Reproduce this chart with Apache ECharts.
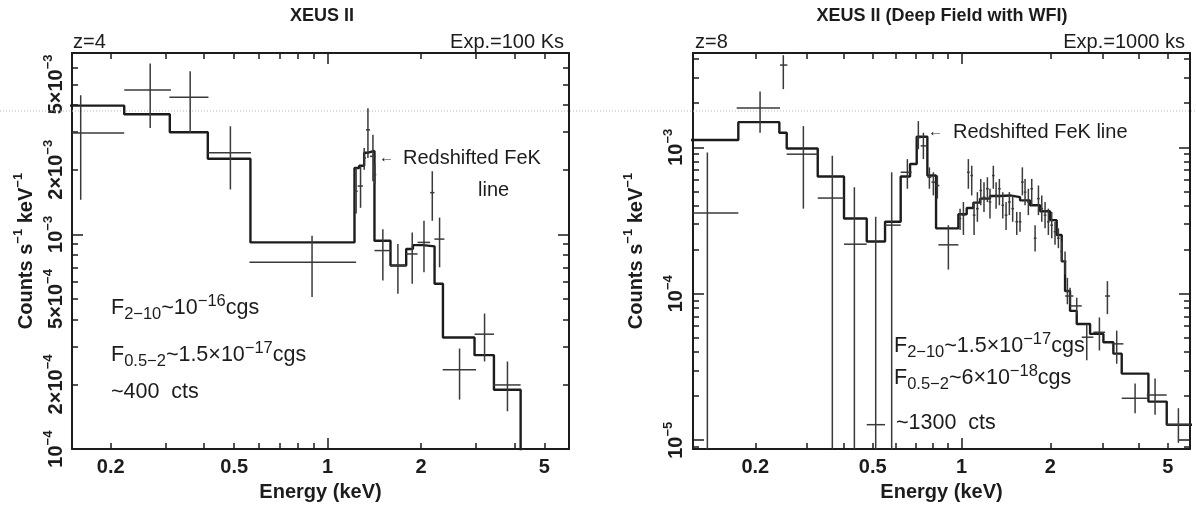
<!DOCTYPE html>
<html><head><meta charset="utf-8">
<script src="https://cdn.jsdelivr.net/npm/echarts@6/dist/echarts.min.js"></script>
<style>html,body{margin:0;padding:0;background:#fff}#c{width:1196px;height:507px}</style>
</head><body><div id="c"></div>
<script>
// ---------------- data ----------------
// model histograms: [binLow keV, binHigh keV, counts/s/keV]
const leftModel = [
  [0.13, 0.221, 3.98e-3], [0.221, 0.310, 3.63e-3], [0.310, 0.411, 2.99e-3],
  [0.411, 0.564, 2.25e-3], [0.564, 1.221, 9.18e-4], [1.221, 1.264, 2.04e-3],
  [1.264, 1.312, 2.09e-3], [1.312, 1.342, 2.40e-3], [1.342, 1.416, 2.45e-3],
  [1.416, 1.595, 9.35e-4], [1.595, 1.792, 7.16e-4], [1.792, 1.884, 8.55e-4],
  [1.884, 2.030, 8.92e-4], [2.030, 2.212, 8.80e-4], [2.212, 2.354, 5.89e-4],
  [2.354, 2.976, 3.31e-4], [2.976, 3.437, 2.74e-4], [3.437, 4.19, 1.89e-4],
  [4.19, 7.0, 1e-6]
];
// data points: [xLow, x, xHigh, yLow, y, yHigh]
const leftData = [
  [0.116, 0.160, 0.221, 1.45e-3, 2.97e-3, 4.45e-3],
  [0.221, 0.268, 0.3125, 3.13e-3, 4.71e-3, 6.26e-3],
  [0.309, 0.3606, 0.413, 2.97e-3, 4.35e-3, 5.76e-3],
  [0.411, 0.486, 0.566, 1.62e-3, 2.40e-3, 3.19e-3],
  [0.560, 0.891, 1.236, 5.11e-4, 7.42e-4, 9.86e-4],
  [1.221, 1.236, 1.25, 1.25e-3, 1.59e-3, 2.04e-3],
  [1.25, 1.277, 1.30, 1.33e-3, 1.68e-3, 2.08e-3],
  [1.30, 1.312, 1.33, 2.00e-3, 2.27e-3, 2.53e-3],
  [1.33, 1.349, 1.37, 2.27e-3, 3.07e-3, 3.87e-3],
  [1.37, 1.400, 1.43, 1.77e-3, 2.31e-3, 2.91e-3],
  [1.405, 1.42, 1.435, 1.71e-3, 1.90e-3, 2.12e-3],
  [1.416, 1.507, 1.603, 6.10e-4, 8.41e-4, 1.058e-3],
  [1.595, 1.685, 1.792, 5.29e-4, 7.16e-4, 9.02e-4],
  [1.792, 1.874, 1.95, 5.89e-4, 8.11e-4, 1.02e-3],
  [1.95, 2.045, 2.14, 6.67e-4, 9.18e-4, 1.158e-3],
  [2.14, 2.175, 2.21, 1.158e-3, 1.565e-3, 1.97e-3],
  [2.21, 2.296, 2.38, 7.03e-4, 9.51e-4, 1.198e-3],
  [2.35, 2.663, 3.01, 1.70e-4, 2.34e-4, 2.94e-4],
  [2.976, 3.206, 3.44, 2.56e-4, 3.43e-4, 4.28e-4],
  [3.42, 3.80, 4.19, 1.50e-4, 1.99e-4, 2.56e-4]
];
const rightModel = [
  [0.11, 0.1752, 1.122e-3], [0.1752, 0.2413, 1.484e-3], [0.2413, 0.2556, 1.257e-3],
  [0.2556, 0.3256, 9.80e-4], [0.3256, 0.3997, 6.31e-4], [0.3997, 0.4773, 3.265e-4],
  [0.4773, 0.5506, 2.271e-4], [0.5506, 0.6221, 3.10e-4], [0.6221, 0.6693, 6.31e-4],
  [0.6693, 0.7050, 7.68e-4], [0.7050, 0.7661, 1.181e-3], [0.7661, 0.8199, 6.41e-4],
  [0.8199, 0.9759, 2.795e-4], [0.9759, 1.0416, 3.49e-4], [1.0416, 1.097, 3.85e-4],
  [1.097, 1.156, 4.19e-4], [1.156, 1.249, 4.46e-4], [1.249, 1.351, 4.65e-4],
  [1.351, 1.460, 4.69e-4], [1.460, 1.579, 4.57e-4], [1.579, 1.707, 4.34e-4],
  [1.707, 1.846, 4.02e-4], [1.846, 1.995, 3.66e-4], [1.995, 2.102, 3.18e-4],
  [2.102, 2.186, 2.52e-4], [2.186, 2.244, 1.664e-4], [2.244, 2.333, 1.043e-4],
  [2.333, 2.458, 7.64e-5], [2.458, 2.728, 6.21e-5], [2.728, 3.027, 5.32e-5],
  [3.027, 3.272, 4.67e-5], [3.272, 3.492, 3.90e-5], [3.492, 4.301, 2.85e-5],
  [4.301, 4.962, 1.836e-5], [4.962, 6.5, 1.277e-5]
];
const rightData = [
  [0.105, 0.1376, 0.1752, 1e-7, 3.565e-4, 9.21e-4],
  [0.1730, 0.2076, 0.2426, 1.257e-3, 1.855e-3, 2.404e-3],
  [0.2426, 0.2489, 0.2569, 2.492e-3, 3.64e-3, 4.25e-3],
  [0.2556, 0.2911, 0.3256, 3.81e-4, 8.97e-4, 1.395e-3],
  [0.3256, 0.3649, 0.3997, 1e-7, 4.50e-4, 8.74e-4],
  [0.3997, 0.4334, 0.4773, 1e-7, 2.179e-4, 5.34e-4],
  [0.4773, 0.5119, 0.5506, 1e-7, 1.277e-5, 3.35e-4],
  [0.5506, 0.5799, 0.6221, 1e-7, 2.94e-4, 6.75e-4],
  [0.6221, 0.6554, 0.6780, 5.21e-4, 6.75e-4, 8.30e-4],
  [0.7050, 0.7140, 0.7271, 9.70e-4, 1.163e-3, 1.508e-3],
  [0.7271, 0.7427, 0.7583, 8.30e-4, 1.022e-3, 1.257e-3],
  [0.7661, 0.7783, 0.7906, 5.21e-4, 6.24e-4, 7.29e-4],
  [0.7906, 0.8028, 0.8153, 4.69e-4, 5.78e-4, 6.75e-4],
  [0.8153, 0.8283, 0.8414, 4.46e-4, 5.48e-4, 6.41e-4],
  [0.8348, 0.9026, 0.9759, 1.462e-4, 2.157e-4, 2.94e-4],
  [0.979, 0.989, 0.999, 2.72e-4, 3.265e-4, 3.81e-4],
  [1.004, 1.015, 1.026, 2.52e-4, 3.44e-4, 4.23e-4],
  [1.044, 1.055, 1.066, 5.21e-4, 6.75e-4, 8.30e-4],
  [1.072, 1.083, 1.094, 4.69e-4, 6.41e-4, 7.48e-4],
  [1.092, 1.103, 1.115, 2.52e-4, 3.44e-4, 4.23e-4],
  [1.120, 1.132, 1.144, 3.10e-4, 3.81e-4, 4.94e-4],
  [1.150, 1.162, 1.174, 4.02e-4, 5.07e-4, 6.08e-4],
  [1.180, 1.192, 1.205, 3.62e-4, 4.57e-4, 5.78e-4],
  [1.211, 1.224, 1.237, 4.23e-4, 5.21e-4, 6.24e-4],
  [1.236, 1.249, 1.262, 3.265e-4, 4.23e-4, 5.21e-4],
  [1.269, 1.282, 1.295, 5.21e-4, 6.41e-4, 7.48e-4],
  [1.296, 1.310, 1.324, 3.81e-4, 4.69e-4, 5.78e-4],
  [1.330, 1.344, 1.358, 4.02e-4, 5.21e-4, 6.08e-4],
  [1.366, 1.380, 1.394, 3.265e-4, 4.02e-4, 4.94e-4],
  [1.401, 1.416, 1.431, 2.72e-4, 3.44e-4, 4.23e-4],
  [1.438, 1.453, 1.468, 3.44e-4, 4.23e-4, 4.94e-4],
  [1.476, 1.491, 1.507, 3.10e-4, 3.81e-4, 4.69e-4],
  [1.523, 1.539, 1.555, 2.52e-4, 3.10e-4, 3.62e-4],
  [1.563, 1.579, 1.596, 2.653e-4, 3.10e-4, 3.62e-4],
  [1.591, 1.608, 1.625, 4.69e-4, 5.78e-4, 7.29e-4],
  [1.625, 1.642, 1.659, 4.02e-4, 4.94e-4, 6.08e-4],
  [1.667, 1.685, 1.703, 3.44e-4, 4.23e-4, 5.21e-4],
  [1.712, 1.730, 1.748, 4.02e-4, 5.21e-4, 6.08e-4],
  [1.758, 1.776, 1.795, 1.944e-4, 2.392e-4, 2.94e-4],
  [1.804, 1.823, 1.842, 3.44e-4, 4.46e-4, 5.48e-4],
  [1.852, 1.871, 1.891, 3.10e-4, 3.81e-4, 4.69e-4],
  [1.900, 1.920, 1.940, 2.795e-4, 3.44e-4, 4.23e-4],
  [1.950, 1.970, 1.991, 2.52e-4, 3.10e-4, 3.81e-4],
  [2.001, 2.022, 2.043, 2.392e-4, 2.94e-4, 3.62e-4],
  [2.053, 2.075, 2.097, 2.157e-4, 2.653e-4, 3.10e-4],
  [2.108, 2.130, 2.152, 2.047e-4, 2.392e-4, 2.795e-4],
  [2.163, 2.186, 2.209, 1.664e-4, 1.944e-4, 2.271e-4],
  [2.221, 2.244, 2.268, 1.352e-4, 1.664e-4, 1.944e-4],
  [2.262, 2.285, 2.309, 8.48e-5, 1.043e-4, 1.284e-4],
  [2.244, 2.333, 2.394, 8.48e-5, 9.65e-5, 1.099e-4],
  [2.333, 2.458, 2.556, 7.26e-5, 8.26e-5, 9.40e-5],
  [2.556, 2.658, 2.799, 3.51e-5, 5.05e-5, 6.21e-5],
  [2.799, 2.934, 3.067, 4.10e-5, 5.46e-5, 6.89e-5],
  [3.067, 3.123, 3.188, 7.26e-5, 9.65e-5, 1.219e-4],
  [3.230, 3.358, 3.538, 3.33e-5, 4.55e-5, 5.60e-5],
  [3.492, 3.876, 4.301, 1.531e-5, 1.934e-5, 2.44e-5],
  [4.245, 4.530, 4.962, 1.492e-5, 2.036e-5, 2.64e-5],
  [4.962, 5.435, 5.953, 9.60e-6, 1.277e-5, 1.655e-5]
];

// axis ranges
const leftXRange = [0.15, 6.0];
const leftYRange = [1e-4, 7e-3];
const rightXRange = [0.123, 5.95];
const rightYRange = [8.7e-6, 4.4e-3];

// ticks and tick labels
const xLabelValues = [0.2, 0.5, 1, 2, 5];
const xMinorTicks = [0.2, 0.3, 0.4, 0.5, 0.6, 0.7, 0.8, 0.9, 2, 3, 4, 5];
const xMajorTicks = [1];
const leftYLabelValues = [1e-4, 2e-4, 5e-4, 1e-3, 2e-3, 5e-3];
const leftYMinorTicks = [2e-4, 3e-4, 4e-4, 5e-4, 6e-4, 7e-4, 8e-4, 9e-4, 2e-3, 3e-3, 4e-3, 5e-3, 6e-3];
const leftYMajorTicks = [1e-4, 1e-3];
const rightYLabelValues = [1e-5, 1e-4, 1e-3];
const rightYMinorTicks = [9e-6, 2e-5, 3e-5, 4e-5, 5e-5, 6e-5, 7e-5, 8e-5, 9e-5,
  2e-4, 3e-4, 4e-4, 5e-4, 6e-4, 7e-4, 8e-4, 9e-4, 2e-3, 3e-3, 4e-3];
const rightYMajorTicks = [1e-5, 1e-4, 1e-3];

// ---------------- styling / building ----------------
const FONT = '"Liberation Sans", Arial, sans-serif';
const INK = '#1c1c1c';

const richAxis = {
  b: {fontSize: 20, lineHeight: 28, fontWeight: 'bold', fontFamily: FONT, color: INK},
  s: {fontSize: 13, lineHeight: 13, verticalAlign: 'top', fontWeight: 'bold', fontFamily: FONT, color: INK}
};

function fmtX(v) { return String(+(+v).toPrecision(3)); }
function fmtPow(v) {
  const e = Math.floor(Math.log10(v) + 1e-6);
  const m = Math.round(v / Math.pow(10, e));
  return (m === 1 ? '{b|10}' : '{b|' + m + '×10}') + '{s|−' + (-e) + '}';
}

function axesFor(gi, xr, yr, yLabels, yMinor, yMajor, labelMargin, nameGap) {
  const frame = {show: true, lineStyle: {color: INK, width: 2}};
  const tickStyle = {color: INK, width: 1.5};
  const base = {type: 'log', logBase: 10, gridIndex: gi, splitLine: {show: false},
    minorTick: {show: false}, minorSplitLine: {show: false}};
  const xb = Object.assign({}, base, {min: xr[0], max: xr[1]});
  const yb = Object.assign({}, base, {min: yr[0], max: yr[1]});
  const minorT = vals => ({show: true, inside: true, length: 6, lineStyle: tickStyle, customValues: vals});
  const majorT = vals => ({show: true, inside: true, length: 11, lineStyle: tickStyle, customValues: vals});
  const x = [
    Object.assign({}, xb, {position: 'bottom', axisLine: frame, axisTick: minorT(xMinorTicks),
      axisLabel: {show: true, customValues: xLabelValues, formatter: fmtX, margin: 8,
        fontSize: 20, fontWeight: 'bold', fontFamily: FONT, color: INK},
      name: 'Energy (keV)', nameLocation: 'middle', nameGap: 31,
      nameTextStyle: {fontSize: 20, fontWeight: 'bold', fontFamily: FONT, color: INK}}),
    Object.assign({}, xb, {position: 'bottom', axisLine: {show: false}, axisTick: majorT(xMajorTicks), axisLabel: {show: false}}),
    Object.assign({}, xb, {position: 'top', axisLine: frame, axisTick: minorT(xMinorTicks), axisLabel: {show: false}}),
    Object.assign({}, xb, {position: 'top', axisLine: {show: false}, axisTick: majorT(xMajorTicks), axisLabel: {show: false}})
  ];
  const y = [
    Object.assign({}, yb, {position: 'left', axisLine: frame, axisTick: minorT(yMinor),
      axisLabel: {show: true, customValues: yLabels, formatter: fmtPow, rotate: 90, margin: labelMargin, rich: richAxis},
      name: '{b|Counts s}{s|−1}{b| keV}{s|−1}', nameLocation: 'middle', nameRotate: 90, nameGap: nameGap,
      nameTextStyle: {rich: richAxis}}),
    Object.assign({}, yb, {position: 'left', axisLine: {show: false}, axisTick: majorT(yMajor), axisLabel: {show: false}}),
    Object.assign({}, yb, {position: 'right', axisLine: frame, axisTick: minorT(yMinor), axisLabel: {show: false}}),
    Object.assign({}, yb, {position: 'right', axisLine: {show: false}, axisTick: majorT(yMajor), axisLabel: {show: false}})
  ];
  return {x, y};
}

function stairs(bins) {
  const out = [];
  bins.forEach(b => { out.push([b[0], b[2]]); out.push([b[1], b[2]]); });
  return out;
}

function errBar(params, api) {
  const a = api.coord([api.value(0), api.value(4)]);
  const b = api.coord([api.value(2), api.value(4)]);
  const c = api.coord([api.value(1), api.value(3)]);
  const d = api.coord([api.value(1), api.value(5)]);
  const st = {stroke: '#3a3a3a', lineWidth: 1.5};
  return {type: 'group', children: [
    {type: 'line', shape: {x1: a[0], y1: a[1], x2: b[0], y2: b[1]}, style: st},
    {type: 'line', shape: {x1: c[0], y1: c[1], x2: d[0], y2: d[1]}, style: st}
  ]};
}

const L = axesFor(0, leftXRange, leftYRange, leftYLabelValues, leftYMinorTicks, leftYMajorTicks, 2, 32);
const R = axesFor(1, rightXRange, rightYRange, rightYLabelValues, rightYMinorTicks, rightYMajorTicks, 3, 43);

const richAnn = {
  b: {fontSize: 21.5, lineHeight: 30, fontFamily: FONT, fill: INK},
  sup: {fontSize: 16.5, lineHeight: 16, verticalAlign: 'top', fontFamily: FONT, fill: INK},
  sub: {fontSize: 16.5, lineHeight: 16, verticalAlign: 'bottom', fontFamily: FONT, fill: INK}
};
function txt(x, y, text, align, size, weight) {
  return {type: 'text', x: x, y: y, z: 100, style: {text: text, fill: INK, fontSize: size || 20,
    fontWeight: weight || 'normal', fontFamily: FONT, align: align || 'left', verticalAlign: 'middle'}};
}
function rtxt(x, y, text) {
  return {type: 'text', x: x, y: y, z: 100, style: {text: text, fill: INK, fontSize: 21.5, fontFamily: FONT,
    align: 'left', verticalAlign: 'middle', rich: richAnn}};
}

const option = {
  animation: false,
  backgroundColor: '#ffffff',
  grid: [
    {left: 72, top: 53, width: 497, height: 400},
    {left: 693, top: 53, width: 497, height: 400}
  ],
  xAxis: L.x.concat(R.x),
  yAxis: L.y.concat(R.y),
  series: [
    {type: 'line', xAxisIndex: 0, yAxisIndex: 0, data: stairs(leftModel), symbol: 'none', showSymbol: false,
      lineStyle: {color: INK, width: 2.4}, clip: true, z: 3},
    {type: 'custom', xAxisIndex: 0, yAxisIndex: 0, data: leftData, renderItem: errBar,
      encode: {x: [0, 1, 2], y: [3, 4, 5]}, clip: true, z: 4},
    {type: 'line', xAxisIndex: 4, yAxisIndex: 4, data: stairs(rightModel), symbol: 'none', showSymbol: false,
      lineStyle: {color: INK, width: 2.4}, clip: true, z: 3},
    {type: 'custom', xAxisIndex: 4, yAxisIndex: 4, data: rightData, renderItem: errBar,
      encode: {x: [0, 1, 2], y: [3, 4, 5]}, clip: true, z: 4}
  ],
  graphic: [
    {type: 'line', z: 1, shape: {x1: 0, y1: 111, x2: 1196, y2: 111},
      style: {stroke: '#b8b8b8', lineWidth: 1, lineDash: [1, 2]}},
    // left panel
    txt(322, 16, 'XEUS II', 'center', 18, 'bold'),
    txt(73, 42, 'z=4', 'left'),
    txt(564, 42, 'Exp.=100 Ks', 'right'),
    txt(379, 158, '←', 'left', 15),
    txt(403, 158, 'Redshifted FeK', 'left'),
    txt(478, 190, 'line', 'left'),
    rtxt(111, 308, '{b|F}{sub|2−10}{b|~10}{sup|−16}{b|cgs}'),
    rtxt(111, 355, '{b|F}{sub|0.5−2}{b|~1.5×10}{sup|−17}{b|cgs}'),
    rtxt(111, 392, '{b|~400  cts}'),
    // right panel
    txt(942, 16, 'XEUS II (Deep Field with WFI)', 'center', 18, 'bold'),
    txt(695, 42, 'z=8', 'left'),
    txt(1185, 42, 'Exp.=1000 ks', 'right'),
    txt(928, 132, '←', 'left', 15),
    txt(953, 132, 'Redshifted FeK line', 'left'),
    rtxt(894, 346, '{b|F}{sub|2−10}{b|~1.5×10}{sup|−17}{b|cgs}'),
    rtxt(894, 378, '{b|F}{sub|0.5−2}{b|~6×10}{sup|−18}{b|cgs}'),
    rtxt(896, 423, '{b|~1300  cts}')
  ]
};

const chart = echarts.init(document.getElementById('c'), null, {renderer: 'canvas'});
chart.setOption(option);
</script>
</body></html>
